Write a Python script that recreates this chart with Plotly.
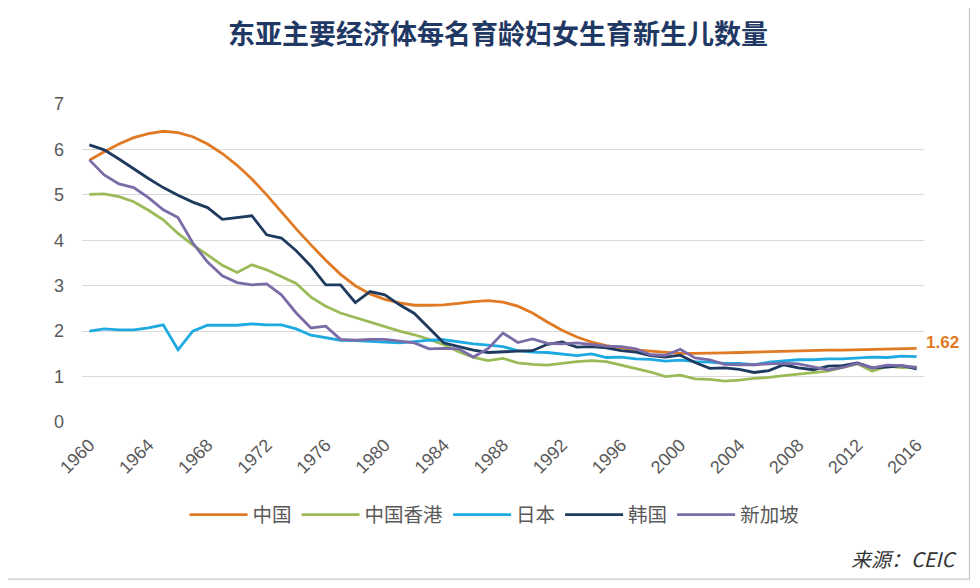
import plotly.graph_objects as go

years = list(range(1960, 2017))

china = [5.76, 5.95, 6.12, 6.26, 6.35, 6.40, 6.37, 6.28, 6.12, 5.91, 5.65, 5.35, 5.00, 4.62, 4.25, 3.90, 3.56, 3.25, 3.00, 2.82, 2.70, 2.62, 2.57, 2.57, 2.58, 2.61, 2.65, 2.67, 2.64, 2.55, 2.40, 2.20, 2.02, 1.87, 1.76, 1.68,
         1.63, 1.59, 1.56, 1.53, 1.51, 1.51, 1.51, 1.52, 1.53, 1.54, 1.55, 1.56, 1.57, 1.57, 1.58, 1.58, 1.59, 1.60, 1.60, 1.61, 1.62]

hongkong = [5.01, 5.02, 4.96, 4.85, 4.66, 4.45, 4.15, 3.90, 3.68, 3.45, 3.29, 3.46, 3.35, 3.20, 3.05, 2.75, 2.55, 2.40, 2.30, 2.20, 2.10, 2.00, 1.92, 1.82, 1.70, 1.55, 1.42, 1.35, 1.40, 1.30, 1.27, 1.25, 1.29, 1.33, 1.35, 1.33,
            1.25, 1.17, 1.10, 1.00, 1.03, 0.95, 0.94, 0.90, 0.92, 0.96, 0.98, 1.02, 1.05, 1.08, 1.12, 1.20, 1.28, 1.12, 1.23, 1.20, 1.21]

japan = [2.00, 2.05, 2.03, 2.03, 2.07, 2.14, 1.59, 2.00, 2.13, 2.13, 2.13, 2.16, 2.14, 2.14, 2.05, 1.91, 1.85, 1.80, 1.79, 1.77, 1.75, 1.74, 1.77, 1.80, 1.81, 1.76, 1.72, 1.69, 1.66, 1.57, 1.54, 1.53, 1.50, 1.46, 1.50, 1.42,
         1.43, 1.39, 1.38, 1.34, 1.36, 1.33, 1.32, 1.29, 1.29, 1.26, 1.32, 1.34, 1.37, 1.37, 1.39, 1.39, 1.41, 1.43, 1.42, 1.45, 1.44]

korea = [6.10, 5.99, 5.79, 5.57, 5.36, 5.16, 4.99, 4.84, 4.72, 4.46, 4.50, 4.54, 4.12, 4.05, 3.77, 3.43, 3.02, 3.02, 2.63, 2.87, 2.80, 2.58, 2.39, 2.06, 1.74, 1.66, 1.58, 1.53, 1.55, 1.56, 1.57, 1.71, 1.76, 1.65, 1.66, 1.63,
         1.57, 1.54, 1.46, 1.43, 1.47, 1.31, 1.18, 1.19, 1.16, 1.09, 1.13, 1.26, 1.19, 1.15, 1.23, 1.24, 1.30, 1.19, 1.21, 1.24, 1.17]

singapore = [5.77, 5.44, 5.24, 5.16, 4.94, 4.67, 4.50, 3.94, 3.52, 3.22, 3.07, 3.02, 3.04, 2.80, 2.40, 2.07, 2.11, 1.82, 1.80, 1.82, 1.82, 1.78, 1.74, 1.61, 1.62, 1.61, 1.43, 1.62, 1.96, 1.75, 1.83, 1.73, 1.72, 1.74, 1.71, 1.67,
             1.66, 1.61, 1.48, 1.47, 1.60, 1.41, 1.37, 1.27, 1.26, 1.26, 1.28, 1.29, 1.28, 1.22, 1.15, 1.20, 1.29, 1.19, 1.25, 1.24, 1.20]

series_names = ["中国", "中国香港", "日本", "韩国", "新加坡"]
series_values = [china, hongkong, japan, korea, singapore]
colors = ["#E07A24", "#9BBB59", "#1EAAE0", "#1F3A5F", "#7B6CA8"]

x_ticks = list(range(1960, 2017, 4))
y_ticks = list(range(0, 8))

title_text = "东亚主要经济体每名育龄妇女生育新生儿数量"
source_text = "来源：CEIC"

fig = go.Figure()
for name, vals, col in zip(series_names, series_values, colors):
    fig.add_trace(go.Scatter(x=years, y=vals, name=name, mode="lines",
                             line=dict(color=col, width=2.8)))

fig.add_annotation(x=years[-1], y=china[-1], xref="x", yref="y", text=f"{china[-1]:.2f}",
                   showarrow=False, xanchor="left", yanchor="middle", xshift=7, yshift=6,
                   font=dict(family="Liberation Sans, Arial", size=17, color="#E07A24", weight="bold"))

fig.add_annotation(x=1.0, y=-0.428, xref="paper", yref="paper", text=source_text,
                   showarrow=False, xanchor="right", yanchor="middle", xshift=34,
                   font=dict(family="Noto Sans CJK SC", size=20, color="#333333", style="italic"))

fig.add_shape(type="rect", xref="paper", yref="paper", x0=-0.094, x1=1.054, y0=-0.494, y1=1.315,
              line=dict(color="#C8C8C8", width=1.2), fillcolor="rgba(0,0,0,0)", layer="below")

fig.update_layout(
    width=980, height=588,
    margin=dict(l=74, r=64, t=96, b=174),
    paper_bgcolor="white", plot_bgcolor="white",
    title=dict(text=title_text, x=0.5, xanchor="center", y=0.954, yanchor="middle",
               font=dict(family="Noto Sans CJK SC", size=27, color="#1F3864", weight="bold")),
    xaxis=dict(range=[1959.5, 2016.5], tickmode="array", tickvals=x_ticks,
               ticktext=[str(t) for t in x_ticks], tickangle=-45, showgrid=False,
               zeroline=False, showline=False, ticks="", ticklabelstandoff=8,
               tickfont=dict(family="Liberation Sans, Arial", size=18, color="#595959")),
    yaxis=dict(range=[0, 7], tickmode="array", tickvals=y_ticks, showgrid=True,
               gridcolor="#D9D9D9", gridwidth=1, zeroline=False, showline=False, ticks="",
               ticklabelstandoff=17,
               tickfont=dict(family="Liberation Sans, Arial", size=18, color="#595959")),
    legend=dict(orientation="h", x=0.49, xanchor="center", y=-0.292, yanchor="middle",
                font=dict(family="Noto Sans CJK SC", size=19.5, color="#595959"),
                itemwidth=58, bgcolor="rgba(0,0,0,0)"),
    showlegend=True,
)

fig.write_html("out.html")
